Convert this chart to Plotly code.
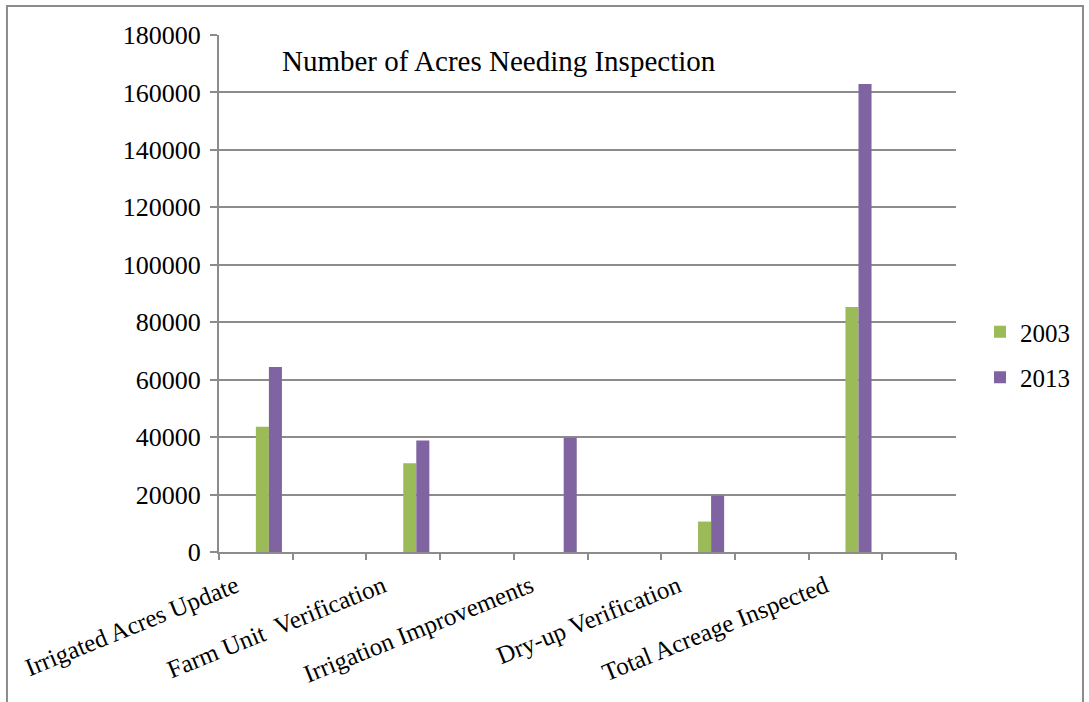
import plotly.graph_objects as go

# Inspection categories (each sits in every other slot on the category axis)
categories = [
    "Irrigated Acres Update",
    "Farm Unit\u00a0 Verification",
    "Irrigation Improvements",
    "Dry-up Verification",
    "Total Acreage Inspected",
]
acres_2003 = [43600, 30900, 0, 10600, 85300]
acres_2013 = [64400, 38800, 39800, 19600, 162900]

y_ticks = [0, 20000, 40000, 60000, 80000, 100000, 120000, 140000, 160000, 180000]

GREEN = "#9BBB59"
PURPLE = "#8064A2"
AXIS_GRAY = "#8C8C8C"
FONT = "Liberation Serif"
TXT = dict(family=FONT, size=25, color="black")

n_slots = 2 * len(categories)
slot_pos = [2 * i for i in range(len(categories))]
bar_w = 0.177

fig = go.Figure()
fig.add_trace(go.Bar(
    x=slot_pos, y=acres_2003, name="2003",
    marker=dict(color=GREEN, line=dict(width=0)),
    width=bar_w, offset=0, legendgroup="a",
))
fig.add_trace(go.Bar(
    x=slot_pos, y=acres_2013, name="2013",
    marker=dict(color=PURPLE, line=dict(width=0)),
    width=bar_w, offset=bar_w, legendgroup="b",
))
# carrier for the slot-boundary tick marks
fig.add_trace(go.Scatter(x=[], y=[], xaxis="x2", showlegend=False, hoverinfo="skip"))

x_range = [-0.5, n_slots - 0.5]

fig.update_layout(
    width=1089, height=702,
    margin=dict(l=219, r=133, t=35, b=150),
    paper_bgcolor="white", plot_bgcolor="white",
    font=TXT,
    barmode="overlay",
    showlegend=True,
    legend=dict(
        x=1.0326, xanchor="left", y=0.47, yanchor="top",
        font=TXT, tracegroupgap=10, bgcolor="rgba(0,0,0,0)",
    ),
    xaxis=dict(
        range=x_range,
        tickvals=slot_pos, ticktext=categories,
        tickangle=-22, ticks="",
        ticklabelshift=-20, ticklabelstandoff=8,
        showline=True, linecolor=AXIS_GRAY, linewidth=2,
        showgrid=False, zeroline=False,
        tickfont=TXT,
    ),
    xaxis2=dict(
        range=x_range, overlaying="x", anchor="y", side="bottom",
        tickvals=[k - 0.5 for k in range(n_slots + 1)],
        showticklabels=False, ticks="outside", ticklen=7,
        tickcolor=AXIS_GRAY, tickwidth=2,
        showgrid=False, zeroline=False, showline=False,
    ),
    yaxis=dict(
        range=[0, 180000], tickvals=y_ticks, tickformat="d",
        ticks="outside", ticklen=7, tickcolor=AXIS_GRAY, tickwidth=2,
        showline=True, linecolor=AXIS_GRAY, linewidth=2,
        showgrid=True, gridcolor=AXIS_GRAY, gridwidth=2,
        zeroline=False,
        tickfont=dict(family=FONT, size=26, color="black"),
        ticklabelstandoff=4,
    ),
    annotations=[dict(
        text="Number of Acres Needing Inspection",
        xref="paper", yref="paper", x=0.0828, y=0.9497,
        xanchor="left", yanchor="middle", showarrow=False,
        font=dict(family=FONT, size=29, color="black"),
    )],
    shapes=[dict(
        type="rect", xref="paper", yref="paper",
        x0=-0.2877, x1=1.1723, y0=-0.31, y1=1.0561,
        line=dict(color=AXIS_GRAY, width=2), fillcolor="rgba(0,0,0,0)",
        layer="below",
    )],
)

fig.write_html("out.html")
